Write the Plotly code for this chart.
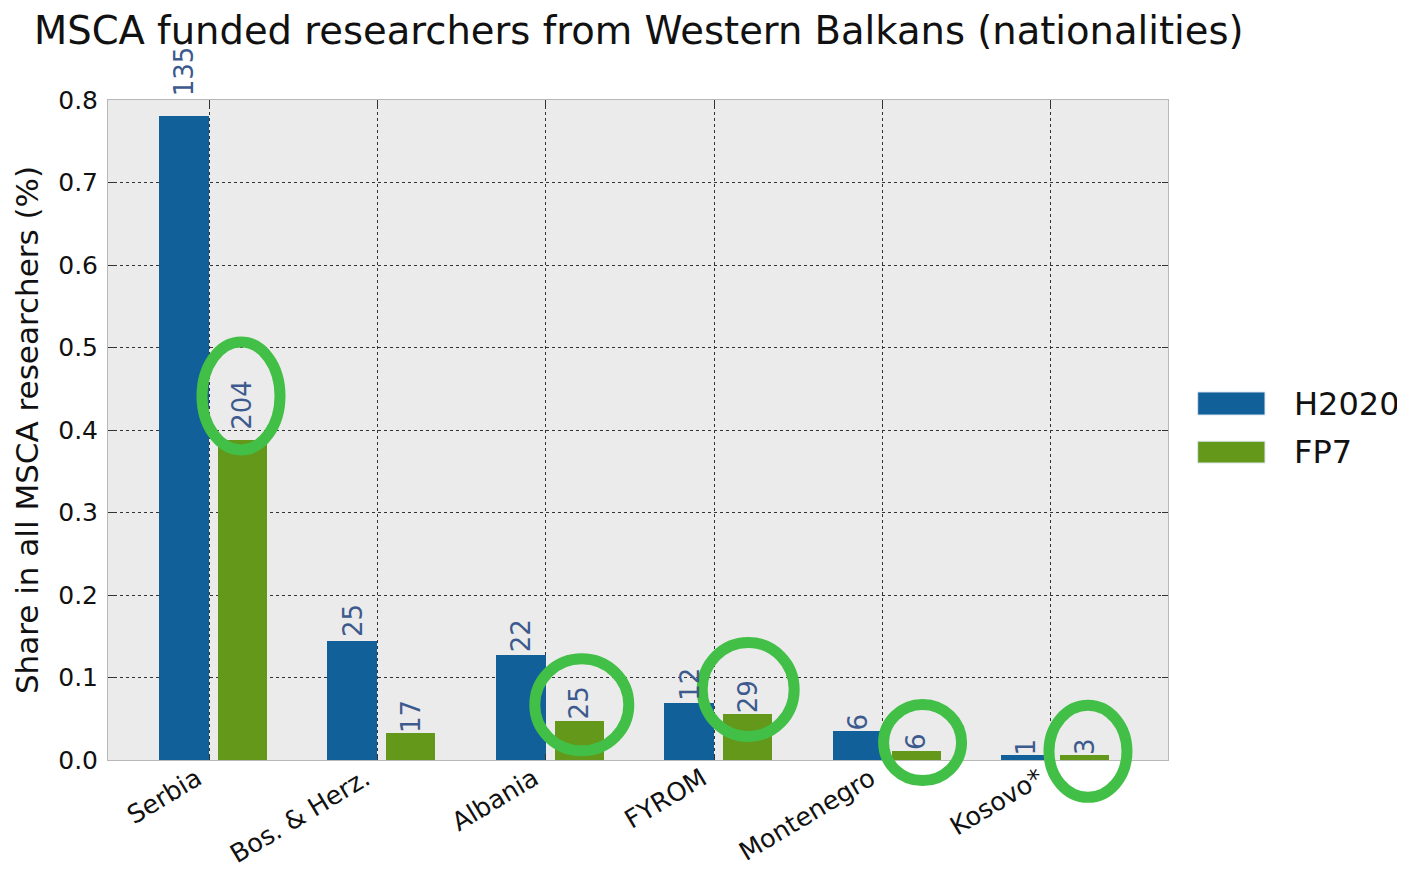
import plotly.graph_objects as go

# ---- data ----
categories = ["Serbia", "Bos. & Herz.", "Albania", "FYROM", "Montenegro", "Kosovo*"]
series_names = ["H2020", "FP7"]
h2020_share = [0.781, 0.1446, 0.127, 0.0694, 0.0347, 0.0058]
fp7_share = [0.388, 0.0323, 0.0475, 0.0552, 0.0114, 0.0057]
h2020_counts = [135, 25, 22, 12, 6, 1]
fp7_counts = [204, 17, 25, 29, 6, 3]
y_ticks = [0.0, 0.1, 0.2, 0.3, 0.4, 0.5, 0.6, 0.7, 0.8]
Y_MAX = 0.8
X_MIN, X_MAX = -0.5998, 5.695
LABEL_FACTOR = 1.03

# highlighted FP7 labels (category index) and circle placement (pixels from bar top)
circled_idx = [0, 2, 3, 4, 5]
circle_dx = [32, 36, 34, 40, 37]
circle_dy = [44, 16, 25, 8, 4]
circle_rx = [39, 47, 46, 39, 39]
circle_ry = [54, 46, 47, 38, 46]

BLUE = "#12609a"
GREEN = "#63981a"
LABEL = "#3d5a8e"
FONT = "DejaVu Sans"

x_idx = list(range(len(categories)))
w_blue, off_blue = 0.297, -0.297
w_green, off_green = 0.291, 0.0534

fig = go.Figure()
fig.add_trace(go.Bar(x=x_idx, y=h2020_share, name=series_names[0], marker_color=BLUE,
                     marker_line_width=0, width=w_blue, offset=off_blue, showlegend=False))
fig.add_trace(go.Bar(x=x_idx, y=fp7_share, name=series_names[1], marker_color=GREEN,
                     marker_line_width=0, width=w_green, offset=off_green, showlegend=False))

annotations = []
for i in x_idx:
    # labels sit just above each bar (expressed as fraction of the y range so they may exceed it)
    annotations.append(dict(x=i + off_blue + w_blue / 2, y=h2020_share[i] * LABEL_FACTOR / Y_MAX,
                            xref="x", yref="paper",
                            text=str(h2020_counts[i]), textangle=-90, showarrow=False,
                            xanchor="center", yanchor="bottom", borderpad=0, borderwidth=0,
                            font=dict(family=FONT, size=26, color=LABEL)))
    annotations.append(dict(x=i + off_green + w_green / 2, y=fp7_share[i] * LABEL_FACTOR / Y_MAX,
                            xref="x", yref="paper",
                            text=str(fp7_counts[i]), textangle=-90, showarrow=False,
                            xanchor="center", yanchor="bottom", borderpad=0, borderwidth=0,
                            font=dict(family=FONT, size=26, color=LABEL)))

shapes = []
for k, i in enumerate(circled_idx):
    # paper-referenced so the highlight circles are not clipped by the plot area
    shapes.append(dict(type="circle", xref="paper", yref="paper", xsizemode="pixel", ysizemode="pixel",
                       xanchor=(i - X_MIN) / (X_MAX - X_MIN), yanchor=fp7_share[i] / Y_MAX,
                       x0=circle_dx[k] - circle_rx[k], x1=circle_dx[k] + circle_rx[k],
                       y0=circle_dy[k] - circle_ry[k], y1=circle_dy[k] + circle_ry[k],
                       line=dict(color="#42bf46", width=11), layer="above"))

# manual legend
legend_colors = [BLUE, GREEN]
legend_y = [(0.5227, 0.5576), (0.45, 0.483)]
for name, col, (ya, yb) in zip(series_names, legend_colors, legend_y):
    shapes.append(dict(type="rect", xref="paper", yref="paper", x0=1.028, x1=1.0915, y0=ya, y1=yb,
                       fillcolor=col, line=dict(color="#dde6ee", width=1)))
    annotations.append(dict(x=1.117, y=(ya + yb) / 2, xref="paper", yref="paper", text=name,
                            showarrow=False, xanchor="left", yanchor="middle",
                            font=dict(family=FONT, size=32, color="#111111")))

fig.update_layout(
    width=1397, height=861,
    margin=dict(l=100, r=237, t=92, b=109, autoexpand=False),
    paper_bgcolor="white", plot_bgcolor="#ebebeb",
    title=dict(text="MSCA funded researchers from Western Balkans (nationalities)",
               x=26 / 1397, xref="container", xanchor="left", y=0.974, yanchor="middle",
               font=dict(family=FONT, size=38.5, color="#111111")),
    font=dict(family=FONT, color="#111111"),
    bargap=0,
    annotations=annotations,
    shapes=shapes,
)
fig.update_xaxes(range=[X_MIN, X_MAX], tickmode="array", tickvals=x_idx, ticktext=categories,
                 tickangle=-31, tickfont=dict(family=FONT, size=25.5, color="#111111"),
                 automargin=False, ticklabelshift=-12, ticklabelstandoff=-7,
                 showgrid=True, gridcolor="#333333", griddash="dot", gridwidth=1,
                 showline=True, linecolor="#b8b8b8", linewidth=1, mirror="ticks",
                 ticks="inside", ticklen=6, tickcolor="#333333", zeroline=False)
fig.update_yaxes(range=[0, Y_MAX], tickmode="array", tickvals=y_ticks,
                 ticktext=[f"{v:.1f}" for v in y_ticks],
                 tickfont=dict(family=FONT, size=25, color="#111111"),
                 ticklabelstandoff=4, automargin=False,
                 title=dict(text="Share in all MSCA researchers (%)", standoff=10,
                            font=dict(family=FONT, size=31, color="#111111")),
                 showgrid=True, gridcolor="#333333", griddash="dot", gridwidth=1,
                 showline=True, linecolor="#b8b8b8", linewidth=1, mirror="ticks",
                 ticks="inside", ticklen=6, tickcolor="#333333", zeroline=False)

fig.write_html("out.html")
